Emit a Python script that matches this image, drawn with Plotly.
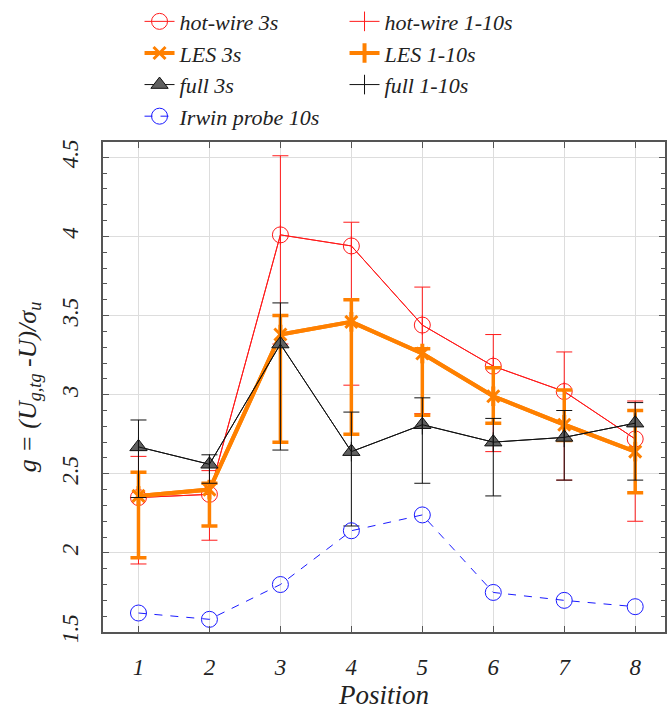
import plotly.graph_objects as go

positions = [1, 2, 3, 4, 5, 6, 7, 8]
y_ticks = [1.5, 2, 2.5, 3, 3.5, 4, 4.5]
y_ticklabels = ["1.5", "2", "2.5", "3", "3.5", "4", "4.5"]

hotwire_3s = [2.35, 2.37, 4.01, 3.94, 3.44, 3.18, 3.02, 2.72]
hotwire_hi = [2.61, 2.52, 4.51, 4.09, 3.68, 3.38, 3.27, 2.96]
hotwire_lo = [1.93, 2.08, 3.32, 3.06, 2.88, 2.64, 2.46, 2.20]

les_3s = [2.36, 2.40, 3.38, 3.46, 3.26, 2.99, 2.81, 2.64]
les_hi = [2.51, 2.44, 3.50, 3.60, 3.29, 3.17, 3.03, 2.90]
les_lo = [1.97, 2.17, 2.70, 2.75, 2.87, 2.82, 2.71, 2.38]

full_3s = [2.67, 2.56, 3.32, 2.64, 2.81, 2.70, 2.73, 2.82]
full_hi = [2.84, 2.62, 3.58, 2.89, 2.98, 2.85, 2.90, 2.95]
full_lo = [2.35, 2.44, 2.65, 2.17, 2.44, 2.36, 2.46, 2.46]

irwin_10s = [1.62, 1.58, 1.80, 2.14, 2.24, 1.75, 1.70, 1.66]

RED = "#FF1A1A"
ORANGE = "#FF8000"
BLACK = "#111111"
BLUE = "#1A1AFF"

def up(c, h):
    return [a - b for a, b in zip(h, c)]

def dn(c, l):
    return [a - b for a, b in zip(c, l)]

def it(s):
    return "<i>" + s + "</i>"

fig = go.Figure()

# hot-wire
fig.add_trace(go.Scatter(x=positions, y=hotwire_3s, name=it("hot-wire 3s"), mode="lines+markers",
                         line=dict(color=RED, width=1),
                         marker=dict(symbol="circle-open", size=16, color=RED, line=dict(width=1, color=RED))))
fig.add_trace(go.Scatter(x=positions, y=hotwire_3s, name=it("hot-wire 1-10s"), mode="lines+markers",
                         line=dict(color=RED, width=1),
                         marker=dict(symbol="line-ns-open", size=14, color=RED, line=dict(width=1, color=RED)),
                         error_y=dict(type="data", symmetric=False, array=up(hotwire_3s, hotwire_hi),
                                      arrayminus=dn(hotwire_3s, hotwire_lo), color=RED, thickness=1, width=8)))
# LES
fig.add_trace(go.Scatter(x=positions, y=les_3s, name=it("LES 3s"), mode="lines+markers",
                         line=dict(color=ORANGE, width=4),
                         marker=dict(symbol="x-thin-open", size=12, color=ORANGE, line=dict(width=3, color=ORANGE))))
fig.add_trace(go.Scatter(x=positions, y=les_3s, name=it("LES 1-10s"), mode="lines+markers",
                         line=dict(color=ORANGE, width=4),
                         marker=dict(symbol="line-ns-open", size=14, color=ORANGE, line=dict(width=4, color=ORANGE)),
                         error_y=dict(type="data", symmetric=False, array=up(les_3s, les_hi),
                                      arrayminus=dn(les_3s, les_lo), color=ORANGE, thickness=3.5, width=8)))
# full
fig.add_trace(go.Scatter(x=positions, y=full_3s, name=it("full 3s"), mode="lines+markers",
                         line=dict(color=BLACK, width=1),
                         marker=dict(symbol="triangle-up", size=15, color="#606060", line=dict(width=1, color=BLACK))))
fig.add_trace(go.Scatter(x=positions, y=full_3s, name=it("full 1-10s"), mode="lines+markers",
                         line=dict(color=BLACK, width=1),
                         marker=dict(symbol="line-ns-open", size=14, color=BLACK, line=dict(width=1, color=BLACK)),
                         error_y=dict(type="data", symmetric=False, array=up(full_3s, full_hi),
                                      arrayminus=dn(full_3s, full_lo), color=BLACK, thickness=1, width=8)))
# Irwin
fig.add_trace(go.Scatter(x=positions, y=irwin_10s, name=it("Irwin probe 10s"), mode="lines+markers",
                         line=dict(color=BLUE, width=1, dash="8px,8px"),
                         marker=dict(symbol="circle-open", size=16, color=BLUE, line=dict(width=1, color=BLUE))))

FF = "Liberation Serif"
TXT = "#222222"

fig.update_layout(
    template="none",
    width=667, height=711,
    margin=dict(l=103, r=2, t=141, b=79),
    paper_bgcolor="white", plot_bgcolor="white",
    font=dict(family=FF, size=20, color=TXT),
    legend=dict(orientation="h", x=0.065, y=1.286, xanchor="left", yanchor="top",
                entrywidth=160, entrywidthmode="pixels",
                font=dict(family=FF, size=22, color=TXT),
                bgcolor="rgba(0,0,0,0)", tracegroupgap=0, itemwidth=30),
    xaxis=dict(range=[0.5, 8.42], tickmode="array", tickvals=positions,
               ticktext=[it(str(p)) for p in positions],
               showgrid=True, gridcolor="#DDDDDD", gridwidth=1,
               showline=True, linecolor="#555555", linewidth=1.5, mirror="ticks",
               ticks="inside", ticklen=6, tickcolor="#555555", ticklabelstandoff=14,
               tickfont=dict(family=FF, size=23, color=TXT),
               title=dict(text=it("Position"), font=dict(family=FF, size=27, color=TXT),
                          standoff=5),
               zeroline=False),
    yaxis=dict(range=[1.5, 4.597], tickmode="array", tickvals=y_ticks,
               ticktext=[it(t) for t in y_ticklabels],
               showgrid=True, gridcolor="#DDDDDD", gridwidth=1,
               showline=True, linecolor="#555555", linewidth=1.5, mirror="ticks",
               ticks="inside", ticklen=6, tickcolor="#555555", tickangle=-90, ticklabelstandoff=14,
               minor=dict(tickmode="linear", tick0=1.5, dtick=0.1, ticks="inside", ticklen=4,
                          tickcolor="#555555", showgrid=False),
               tickfont=dict(family=FF, size=23, color=TXT),
               title=dict(text=it("g = (U<sub>g,tg</sub> -U)/σ<sub>u</sub>"),
                          font=dict(family=FF, size=26, color=TXT),
                          standoff=14),
               zeroline=False),
)

fig.write_html("out.html")
